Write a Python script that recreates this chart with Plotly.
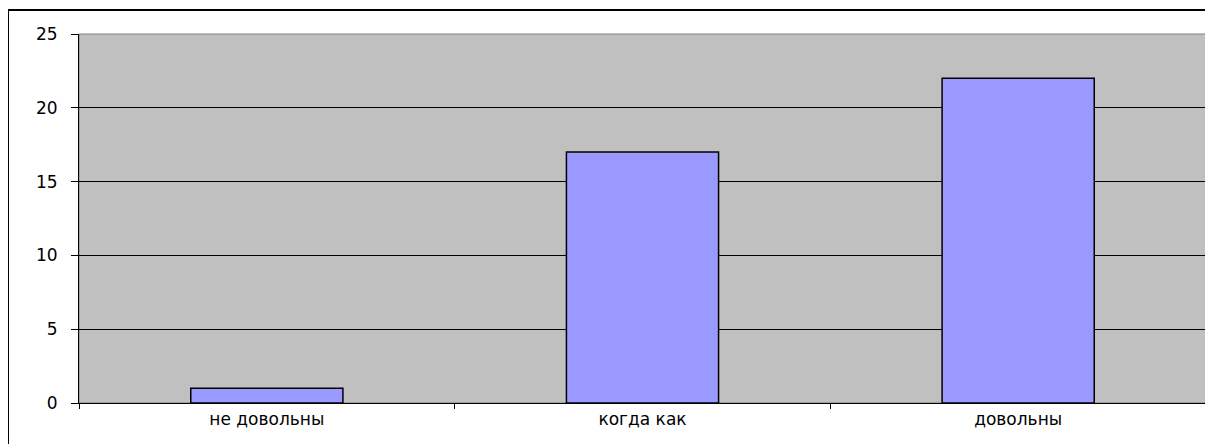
import plotly.graph_objects as go

categories = ["не довольны", "когда как", "довольны"]
values = [1, 17, 22]
y_ticks = [0, 5, 10, 15, 20, 25]

# page has an 8px body margin; compensate so plot area lands at x 79..1206, y 34..403
OFF = 8
W, H = 1213 - OFF, 444 - OFF
L, R, T, B = 79 - OFF, 7, 34 - OFF, 41
pw, ph = W - L - R, H - T - B

fig = go.Figure(go.Bar(
    x=categories, y=values,
    marker=dict(color="#9999FF", line=dict(color="black", width=1.5)),
))

fig.update_layout(
    width=W, height=H,
    margin=dict(l=L, r=R, t=T, b=B, pad=0),
    paper_bgcolor="white",
    plot_bgcolor="#C0C0C0",
    bargap=0.595,
    showlegend=False,
    font=dict(family="DejaVu Sans, Arial, sans-serif", size=17, color="black"),
    xaxis=dict(
        showgrid=False, showline=True, linecolor="black", linewidth=1,
        ticks="outside", tickson="boundaries", ticklen=5, tickcolor="black",
        tickfont=dict(size=17), ticklabelstandoff=1,
    ),
    yaxis=dict(
        range=[0, 25], tickvals=y_ticks, showgrid=True, gridcolor="black", gridwidth=1,
        showline=True, linecolor="black", linewidth=1,
        ticks="outside", ticklen=7, tickcolor="black", zeroline=False,
        tickfont=dict(size=17), ticklabelstandoff=10,
    ),
    shapes=[
        dict(type="rect", xref="paper", yref="paper",
             x0=(0 - L) / pw, x1=(W + 20 - L) / pw,
             y0=-(B + 20) / ph, y1=(H - B - 2) / ph,
             line=dict(color="black", width=2), fillcolor="rgba(0,0,0,0)", layer="below"),
        dict(type="rect", xref="paper", yref="paper", x0=0, x1=1, y0=0, y1=1,
             line=dict(color="#808080", width=1), fillcolor="rgba(0,0,0,0)", layer="below"),
    ],
)

fig.write_html("out.html")
